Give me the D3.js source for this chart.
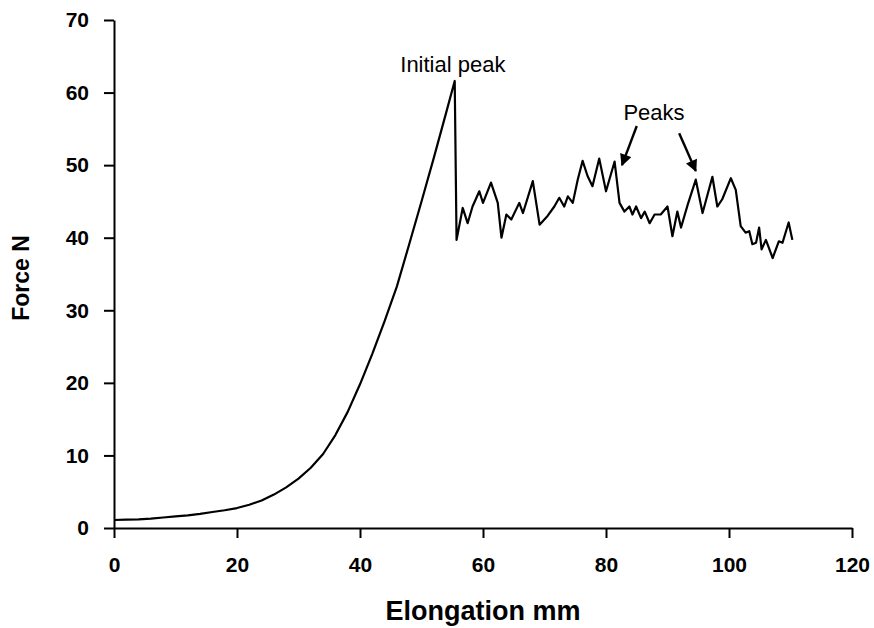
<!DOCTYPE html>
<html>
<head>
<meta charset="utf-8">
<script src="https://cdn.jsdelivr.net/npm/d3@7"></script>
<style>
  body { margin: 0; background: #fff; }
  svg { font-family: "Liberation Sans", Arial, sans-serif; }
</style>
</head>
<body>
<div id="chart"></div>
<script>
// elongation (mm) and force (N)
const elongation = [
  0, 2, 4, 6, 8, 10, 12, 14, 16, 18, 20, 22, 24, 26, 28, 30, 32, 34, 36, 38,
  40, 42, 44, 46, 48, 50, 52, 54, 55.4,
  55.7, 56.7, 57.5, 58.3, 59.4, 60.0, 61.3, 62.4, 63.0, 63.8, 64.6, 65.9, 66.5,
  68.1, 69.2, 70.5, 71.6, 72.4, 73.2, 73.8, 74.6, 75.4, 76.2, 77.0, 77.8, 78.9,
  80.0, 81.4, 82.2, 83.0, 83.8, 84.3, 84.9, 85.7, 86.3, 87.1, 87.9, 88.9, 90.0,
  90.8, 91.6, 92.2, 93.3, 94.6, 95.7, 97.3, 98.1, 98.9, 100.3, 101.1, 101.9,
  102.7, 103.3, 103.8, 104.4, 104.9, 105.3, 106.0, 107.1, 108.1, 108.7, 109.7, 110.3
];
const force = [
  1.1, 1.15, 1.2, 1.3, 1.45, 1.6, 1.75, 1.95, 2.2, 2.45, 2.75, 3.2, 3.8, 4.6, 5.6, 6.8, 8.3, 10.2, 12.8, 16.0,
  19.8, 24.0, 28.5, 33.3, 39.1, 45.0, 51.0, 57.2, 61.6,
  39.7, 44.1, 42.0, 44.3, 46.4, 44.8, 47.6, 44.8, 40.0, 43.2, 42.5, 44.8, 43.4,
  47.8, 41.8, 43.0, 44.3, 45.5, 44.3, 45.7, 44.8, 48.0, 50.6, 48.5, 47.1, 50.9,
  46.4, 50.5, 44.8, 43.6, 44.3, 43.2, 44.3, 42.7, 43.6, 42.0, 43.2, 43.2, 44.3,
  40.2, 43.6, 41.4, 44.6, 48.0, 43.4, 48.4, 44.3, 45.3, 48.2, 46.6, 41.6,
  40.7, 40.9, 39.1, 39.3, 41.4, 38.4, 39.7, 37.2, 39.5, 39.3, 42.1, 39.7
];

const xTicks = [0, 20, 40, 60, 80, 100, 120];
const yTicks = [0, 10, 20, 30, 40, 50, 60, 70];

// text labels: [text, x, y]
const labels = [["Initial peak", 55.1, 62.8], ["Peaks", 87.8, 56.2]];
// arrows: [x1, y1, x2, y2] (tail -> head)
const arrows = [[85.0, 55.4, 82.6, 50.0], [91.9, 54.4, 94.6, 49.2]];

const width = 874, height = 628;
const margin = { top: 20, right: 22, bottom: 100, left: 114 };

const svg = d3.select("#chart").append("svg")
  .attr("width", width)
  .attr("height", height);

const x = d3.scaleLinear().domain([0, 120]).range([margin.left, width - margin.right]);
const y = d3.scaleLinear().domain([0, 70]).range([height - margin.bottom, margin.top]);

svg.append("defs").append("marker")
  .attr("id", "head")
  .attr("viewBox", "0 0 10 10")
  .attr("refX", 9).attr("refY", 5)
  .attr("markerWidth", 5.5).attr("markerHeight", 5)
  .attr("markerUnits", "strokeWidth")
  .attr("orient", "auto")
  .append("path")
  .attr("d", "M0,0L10,5L0,10Z")
  .attr("fill", "#000");

// axes
const xAxis = svg.append("g")
  .attr("transform", `translate(0,${y(0)})`)
  .call(d3.axisBottom(x).tickValues(xTicks).tickSize(10).tickSizeOuter(0).tickPadding(19));

const yAxis = svg.append("g")
  .attr("transform", `translate(${x(0)},0)`)
  .call(d3.axisLeft(y).tickValues(yTicks).tickSize(10).tickSizeOuter(0).tickPadding(15));

[xAxis, yAxis].forEach(g => {
  g.selectAll("path, line").attr("stroke", "#000").attr("stroke-width", 2);
  g.selectAll("text")
    .attr("fill", "#000")
    .style("font-size", "21px")
    .style("font-weight", "bold")
    .style("font-family", '"Liberation Sans", Arial, sans-serif');
});

// curve
const line = d3.line()
  .x((d, i) => x(elongation[i]))
  .y(d => y(d));

svg.append("path")
  .datum(force)
  .attr("fill", "none")
  .attr("stroke", "#000")
  .attr("stroke-width", 2.2)
  .attr("stroke-linejoin", "round")
  .attr("d", line);

// annotations
svg.selectAll(".lbl")
  .data(labels)
  .join("text")
  .attr("class", "lbl")
  .attr("x", d => x(d[1]))
  .attr("y", d => y(d[2]))
  .attr("text-anchor", "middle")
  .style("font-size", "22px")
  .text(d => d[0]);

svg.selectAll(".arrow")
  .data(arrows)
  .join("line")
  .attr("class", "arrow")
  .attr("x1", d => x(d[0])).attr("y1", d => y(d[1]))
  .attr("x2", d => x(d[2])).attr("y2", d => y(d[3]))
  .attr("stroke", "#000")
  .attr("stroke-width", 2.4)
  .attr("marker-end", "url(#head)");

// axis titles
svg.append("text")
  .attr("x", (x(0) + x(120)) / 2)
  .attr("y", 620)
  .attr("text-anchor", "middle")
  .style("font-size", "27px")
  .style("font-weight", "bold")
  .text("Elongation mm");

svg.append("text")
  .attr("transform", `translate(29,${(y(0) + y(70)) / 2 + 4}) rotate(-90)`)
  .attr("text-anchor", "middle")
  .style("font-size", "23px")
  .style("font-weight", "bold")
  .text("Force N");
</script>
</body>
</html>
